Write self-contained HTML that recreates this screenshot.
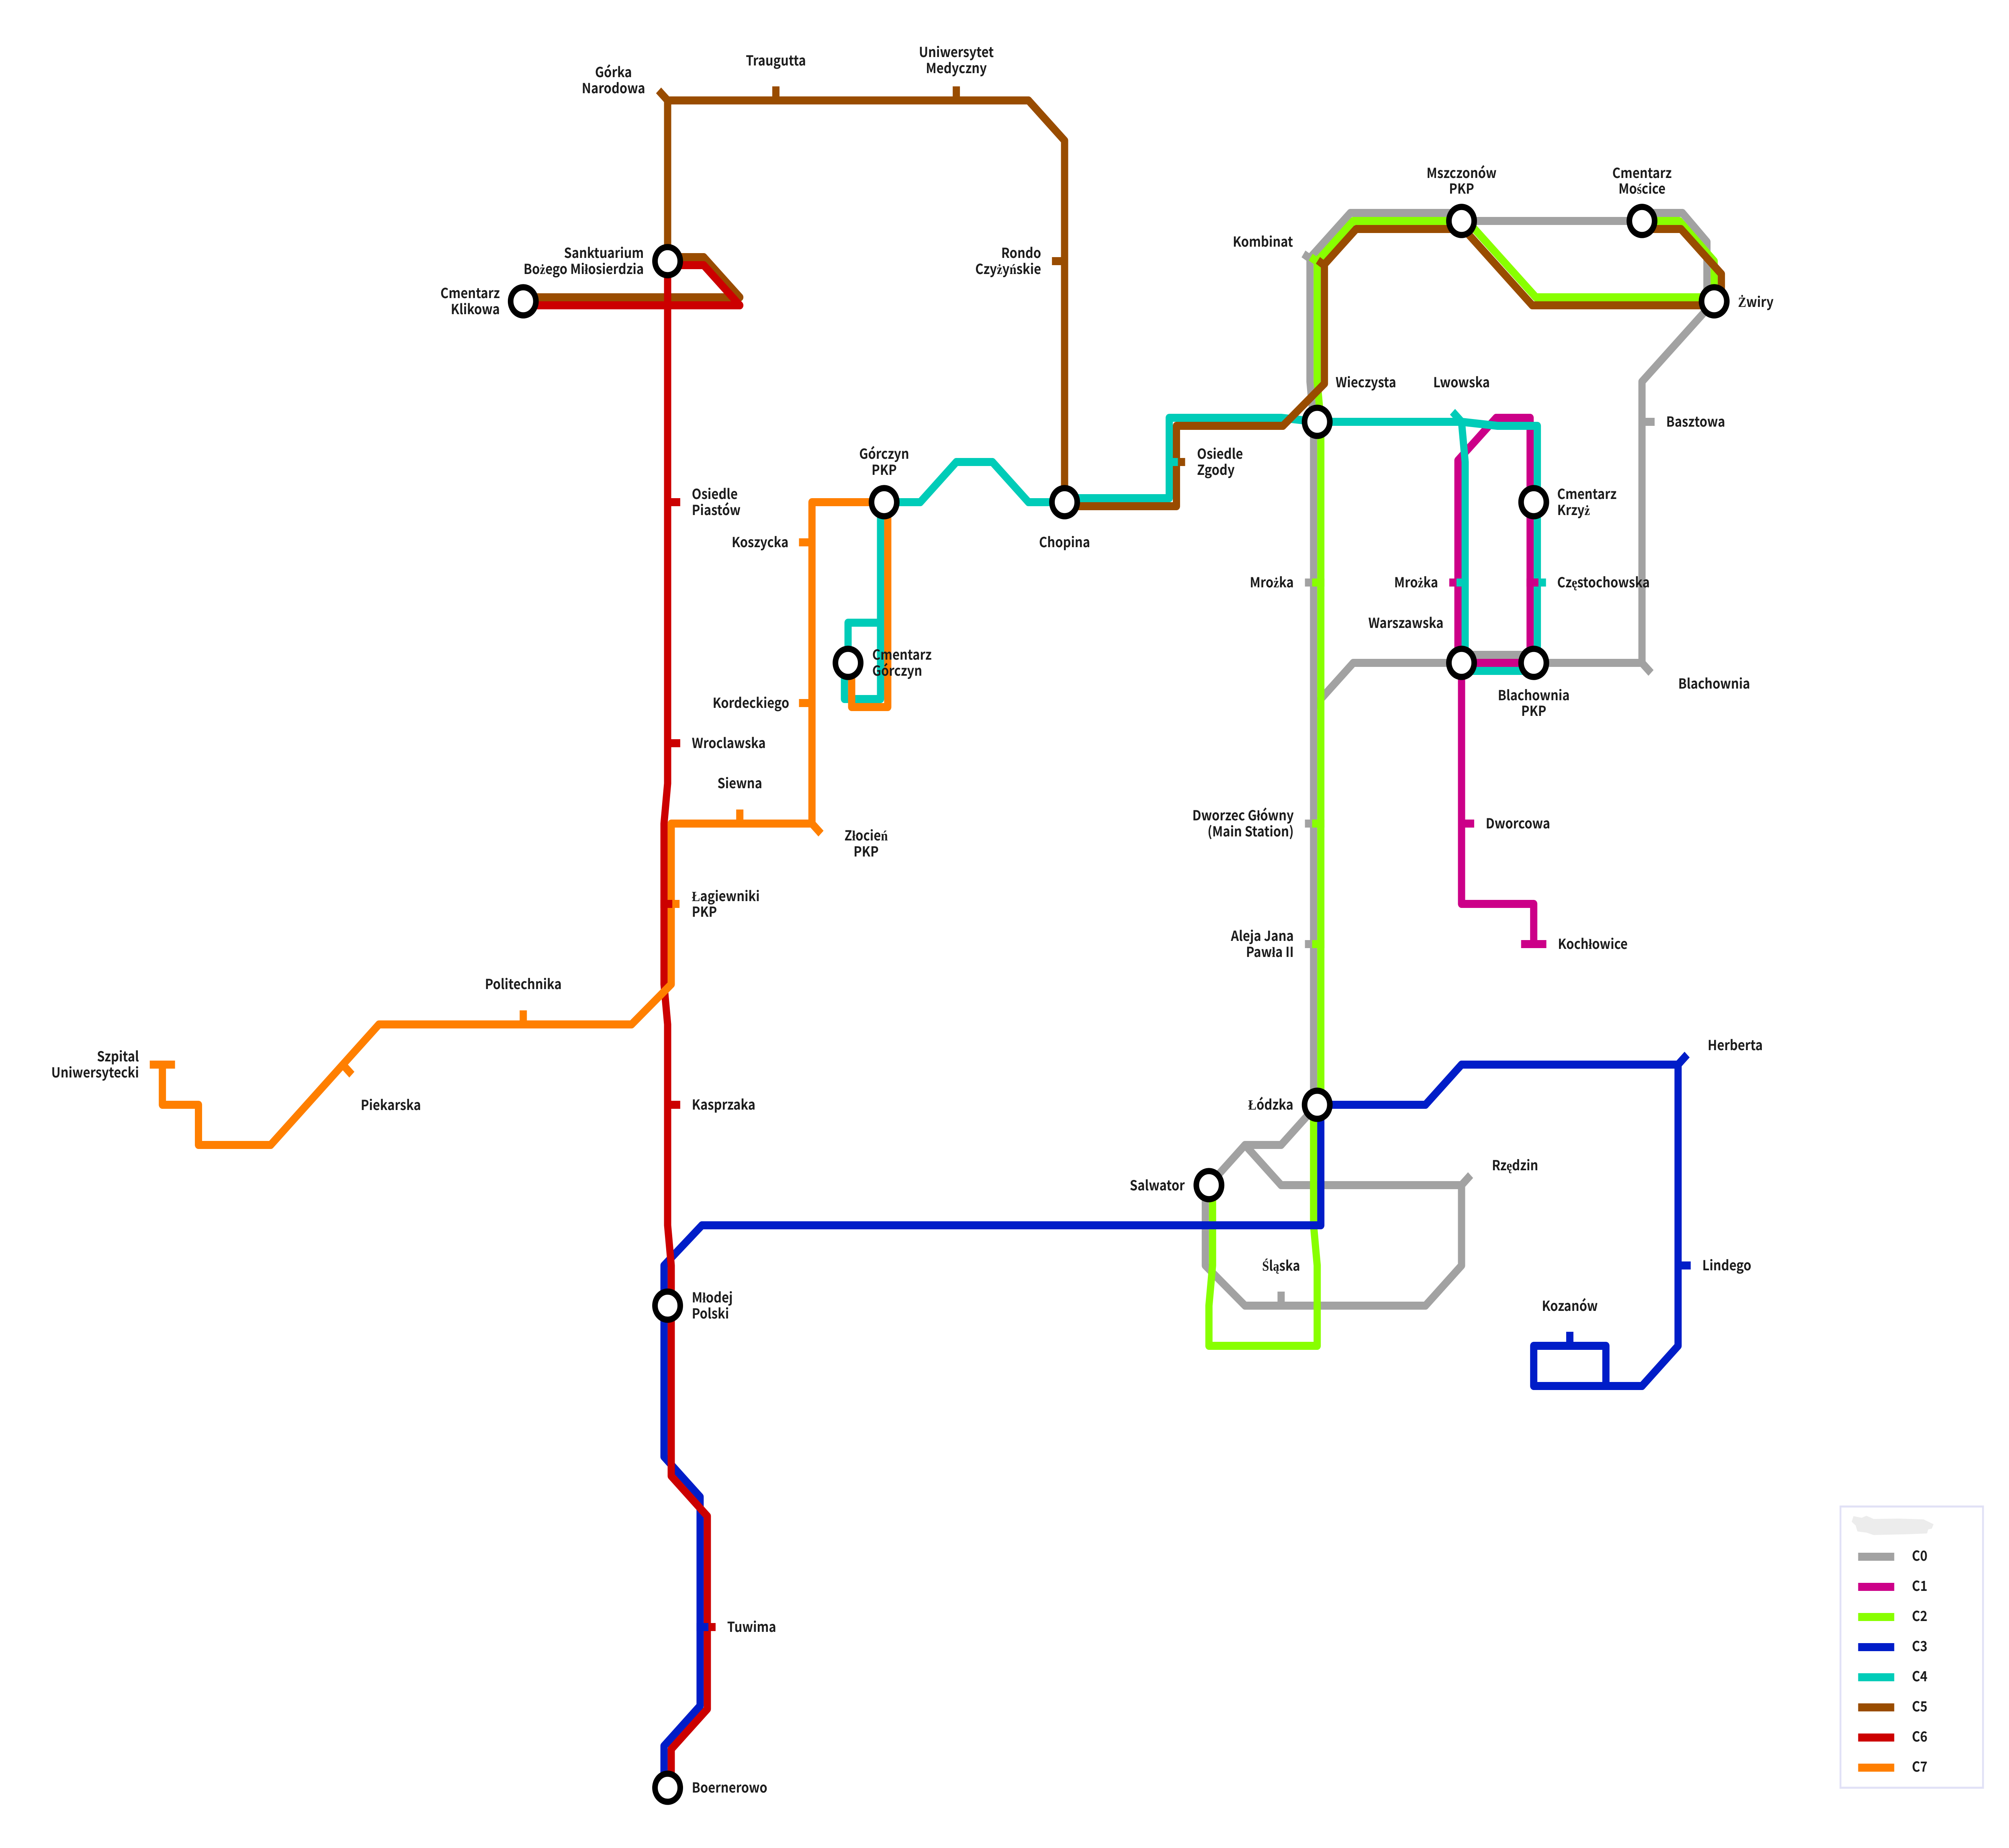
<!DOCTYPE html>
<html style="margin:0;padding:0;overflow:hidden;background:#fff"><head><meta charset="utf-8"><style>
body{margin:0;padding:0;background:#fff;overflow:hidden;width:100vw;height:100vh}
svg{display:block;width:100vw;height:100vh}
.l{fill:none;stroke-width:20;stroke-linejoin:round;stroke-linecap:butt}
.t{fill:none;stroke-width:20;stroke-linecap:butt}
.g{stroke:#a2a2a2}.m{stroke:#cc0088}.y{stroke:#88ff00}.b{stroke:#001dc8}.c{stroke:#00ccb8}.w{stroke:#994c00}.r{stroke:#cc0000}.o{stroke:#ff7f00}
circle{fill:#fff;stroke:#000;stroke-width:15.5}
text{font-family:"Noto Sans CJK SC","Liberation Sans",sans-serif;font-weight:700;font-size:34.5px;fill:#1c1c1c}
tspan{font-family:"Liberation Serif",serif}
.e{text-anchor:end}.n{text-anchor:middle}
</style></head><body>
<svg xmlns="http://www.w3.org/2000/svg" viewBox="0 0 5567 4600" preserveAspectRatio="none">
<rect width="5567" height="4600" fill="#fff"/>
<!-- C0 -->
<path class="l g" d="M3630 642L3742 530H4050V550H4550V530H4662L4730 602V750"/>
<path class="l g" d="M3630 642V950L3640 1050V2750"/>
<path class="l g" d="M3640 1760L3750 1650H4050V1630H4250V1650H4550V950L4750 750"/>
<path class="l g" d="M3650 2750L3550 2850H3450L3350 2950"/>
<path class="l g" d="M3450 2850L3550 2950H4050V3150L3950 3250H3450L3340 3150V2950"/>
<!-- C1 -->
<path class="l m" d="M4050 1650V2250H4250V2350"/>
<path class="l m" d="M4040 1650V1146L4146 1040H4240V1650H4040"/>
<!-- C2 -->
<path class="l y" d="M4750 740H4256L4066 550H3750L3650 650V950L3660 1050V2750"/>
<path class="l y" d="M4750 750V650L4653 550H4550"/>
<path class="l y" d="M3640 2750V3050L3650 3150V3350H3350V3250L3360 3150V2950"/>
<!-- C3 -->
<path class="l b" d="M3650 2750H3950L4050 2650H4650V3350L4550 3450H4250V3350H4450V3450"/>
<path class="l b" d="M3660 2750V3050H1945L1840 3150V3626L1940 3726V4246L1840 4346V4450"/>
<!-- C4 -->
<path class="l c" d="M2450 1250H2550L2650 1150H2750L2850 1250H2950"/>
<path class="l c" d="M2950 1240H3240V1040H3550L3650 1050H4050L4150 1060H4260V1670H4060V1150L4050 1050"/>
<path class="l c" d="M2440 1250V1740H2340V1650"/>
<path class="l c" d="M2350 1650V1550H2440"/>
<!-- C5 -->
<path class="l w" d="M1850 650V250H2850L2950 350V1250"/>
<path class="l w" d="M1850 640H1950L2050 740H1450"/>
<path class="l w" d="M2950 1260H3260V1060H3555L3670 955V658L3758 570H4056L4246 760H4750"/>
<path class="l w" d="M4550 570H4658L4770 682V750"/>
<!-- C6 -->
<path class="l r" d="M1850 660H1950L2050 760H1450"/>
<path class="l r" d="M1850 650V1950L1840 2050V2450L1850 2550V3050L1860 3150V3674L1960 3774V4254L1860 4354V4450"/>
<!-- C7 -->
<path class="l o" d="M2450 1250H2250V2050H1860V2450L1750 2550H1050L750 2850H550V2750H450V2650"/>
<path class="l o" d="M2360 1650V1760H2460V1250"/>
<!-- ticks -->
<path class="t g" d="M3616 1450H3650M3616 2050H3650M3616 2350H3650"/>
<path class="t g" d="M3612 632L3640 650"/>
<path class="t g" d="M4550 1050H4585"/>
<path class="t g" d="M4550 1650L4575 1675"/>
<path class="t g" d="M3550 3250V3215"/>
<path class="t g" d="M4050 2950L4075 2925"/>
<path class="t y" d="M3636 1450H3670M3636 2050H3670M3636 2350H3670"/>
<path class="t y" d="M3632 640L3660 658"/>
<path class="t m" d="M4016 1450H4050"/>
<path class="t m" d="M4050 2050H4085"/>
<path class="t m" d="M4215 2350H4285"/>
<path class="t c" d="M4036 1450H4070"/>
<path class="t c" d="M4263 1450H4284"/>
<path class="t m" d="M4230 1450H4263"/>
<path class="t c" d="M4050 1050L4025 1025"/>
<path class="t b" d="M4350 3350V3315"/>
<path class="t b" d="M4650 2650L4675 2625"/>
<path class="t b" d="M4650 3150H4685"/>
<path class="t r" d="M1963 4050H1983"/>
<path class="t b" d="M1930 4050H1963"/>
<path class="t w" d="M3264 1150H3284"/>
<path class="t c" d="M3230 1150H3264"/>
<path class="t w" d="M2150 250V215M2650 250V215"/>
<path class="t w" d="M1850 250L1825 225"/>
<path class="t w" d="M2950 650H2915"/>
<path class="t w" d="M3652 648L3672 662"/>
<path class="t r" d="M1850 1250H1885M1850 1850H1885M1850 2750H1885"/>
<path class="t o" d="M1863 2250H1883"/>
<path class="t r" d="M1830 2250H1863"/>
<path class="t o" d="M2250 1350H2214M2250 1750H2214"/>
<path class="t o" d="M2050 2050V2015"/>
<path class="t o" d="M2250 2050L2275 2075"/>
<path class="t o" d="M1450 2550V2515"/>
<path class="t o" d="M950 2650L975 2675"/>
<path class="t o" d="M415 2650H485"/>
<!-- stations -->
<circle cx="1450" cy="750" r="35"/><circle cx="1850" cy="650" r="35"/><circle cx="2450" cy="1250" r="35"/><circle cx="2350" cy="1650" r="35"/><circle cx="2950" cy="1250" r="35"/><circle cx="3650" cy="1050" r="35"/><circle cx="4050" cy="550" r="35"/><circle cx="4550" cy="550" r="35"/><circle cx="4750" cy="750" r="35"/><circle cx="4250" cy="1250" r="35"/><circle cx="4050" cy="1650" r="35"/><circle cx="4250" cy="1650" r="35"/><circle cx="3650" cy="2750" r="35"/><circle cx="3350" cy="2950" r="35"/><circle cx="1850" cy="3250" r="35"/><circle cx="1850" cy="4450" r="35"/>
<!-- labels -->
<text class="n" x="1700" y="192">Górka</text><text class="n" x="1700" y="232">Narodowa</text>
<text class="n" x="2150" y="163">Traugutta</text>
<text class="n" x="2650" y="142">Uniwersytet</text><text class="n" x="2650" y="182">Medyczny</text>
<text class="e" x="1784" y="642">Sanktuarium</text><text class="e" x="1784" y="682">Bo<tspan>ż</tspan>ego Mi<tspan>ł</tspan>osierdzia</text>
<text class="e" x="1385" y="742">Cmentarz</text><text class="e" x="1385" y="782">Klikowa</text>
<text class="e" x="2885" y="642">Rondo</text><text class="e" x="2885" y="682">Czy<tspan>ż</tspan>y<tspan>ń</tspan>skie</text>
<text class="e" x="3583" y="614">Kombinat</text>
<text class="n" x="4050" y="443">Mszczonów</text><text class="n" x="4050" y="482">PKP</text>
<text class="n" x="4550" y="443">Cmentarz</text><text class="n" x="4550" y="482">Mo<tspan>ś</tspan>cice</text>
<text x="4816" y="764"><tspan>Ż</tspan>wiry</text>
<text x="3701" y="964">Wieczysta</text>
<text class="n" x="4050" y="964">Lwowska</text>
<text x="4617" y="1062">Basztowa</text>
<text x="1917" y="1242">Osiedle</text><text x="1917" y="1282">Piastów</text>
<text class="n" x="2450" y="1142">Górczyn</text><text class="n" x="2450" y="1182">PKP</text>
<text x="3317" y="1142">Osiedle</text><text x="3317" y="1182">Zgody</text>
<text x="4315" y="1242">Cmentarz</text><text x="4315" y="1282">Krzy<tspan>ż</tspan></text>
<text class="n" x="2950" y="1362">Chopina</text>
<text class="e" x="2185" y="1362">Koszycka</text>
<text class="e" x="3585" y="1462">Mro<tspan>ż</tspan>ka</text>
<text class="e" x="3985" y="1462">Mro<tspan>ż</tspan>ka</text>
<text x="4315" y="1462">Cz<tspan>ę</tspan>stochowska</text>
<text class="e" x="4000" y="1563">Warszawska</text>
<text x="2417" y="1642">Cmentarz</text><text x="2417" y="1682">Górczyn</text>
<text class="n" x="4750" y="1714">Blachownia</text>
<text class="n" x="4250" y="1743">Blachownia</text><text class="n" x="4250" y="1782">PKP</text>
<text class="e" x="2187" y="1762">Kordeckiego</text>
<text x="1917" y="1862">Wroclawska</text>
<text class="n" x="2050" y="1962">Siewna</text>
<text class="e" x="3585" y="2042">Dworzec Główny</text><text class="e" x="3585" y="2082">(Main Station)</text>
<text x="4117" y="2062">Dworcowa</text>
<text class="n" x="2400" y="2092">Z<tspan>ł</tspan>ocie<tspan>ń</tspan></text><text class="n" x="2400" y="2132">PKP</text>
<text x="1917" y="2243"><tspan>Ł</tspan>agiewniki</text><text x="1917" y="2282">PKP</text>
<text class="e" x="3585" y="2342">Aleja Jana</text><text class="e" x="3585" y="2382">Paw<tspan>ł</tspan>a II</text>
<text x="4317" y="2362">Koch<tspan>ł</tspan>owice</text>
<text class="n" x="1450" y="2462">Politechnika</text>
<text x="4732" y="2614">Herberta</text>
<text class="e" x="385" y="2642">Szpital</text><text class="e" x="385" y="2682">Uniwersytecki</text>
<text class="n" x="1083" y="2763">Piekarska</text>
<text x="1917" y="2762">Kasprzaka</text>
<text class="e" x="3584" y="2762"><tspan>Ł</tspan>ódzka</text>
<text x="4134" y="2913">Rz<tspan>ę</tspan>dzin</text>
<text class="e" x="3283" y="2963">Salwator</text>
<text x="4717" y="3162">Lindego</text>
<text class="n" x="3550" y="3163"><tspan>Ś</tspan>l<tspan>ą</tspan>ska</text>
<text x="1917" y="3242">M<tspan>ł</tspan>odej</text><text x="1917" y="3282">Polski</text>
<text class="n" x="4350" y="3263">Kozanów</text>
<text x="2015" y="4062">Tuwima</text>
<text x="1917" y="4462">Boernerowo</text>
<!-- legend -->
<rect x="5100" y="3750" width="395" height="700" fill="#fff" stroke="#e1e1f6" stroke-width="5"/>
<path d="M5131 3788L5136 3774L5159 3778L5172 3773L5192 3781L5261 3780L5330 3782L5358 3794L5353 3805L5343 3807L5340 3817L5287 3819L5192 3821L5172 3815L5147 3812L5142 3797Z" fill="#ececec"/>
<rect x="5149" y="3865" width="100" height="20" fill="#a2a2a2"/>
<rect x="5149" y="3940" width="100" height="20" fill="#cc0088"/>
<rect x="5149" y="4015" width="100" height="20" fill="#88ff00"/>
<rect x="5149" y="4090" width="100" height="20" fill="#001dc8"/>
<rect x="5149" y="4165" width="100" height="20" fill="#00ccb8"/>
<rect x="5149" y="4240" width="100" height="20" fill="#994c00"/>
<rect x="5149" y="4315" width="100" height="20" fill="#cc0000"/>
<rect x="5149" y="4390" width="100" height="20" fill="#ff7f00"/>
<text x="5298" y="3885">C0</text><text x="5298" y="3960">C1</text><text x="5298" y="4035">C2</text><text x="5298" y="4110">C3</text><text x="5298" y="4185">C4</text><text x="5298" y="4260">C5</text><text x="5298" y="4335">C6</text><text x="5298" y="4410">C7</text>
</svg>
</body></html>
